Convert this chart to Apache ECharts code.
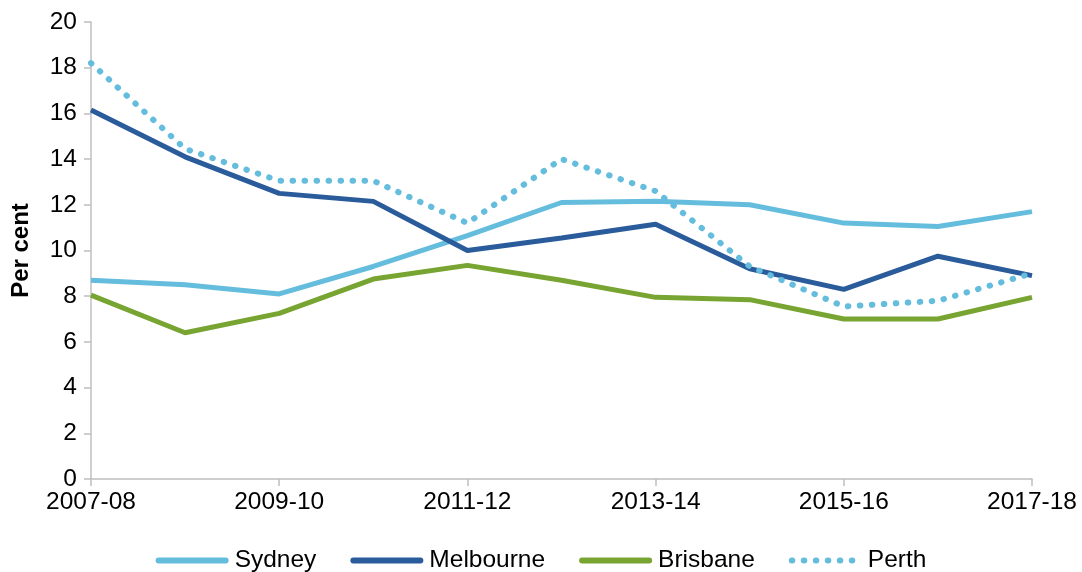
<!DOCTYPE html>
<html>
<head>
<meta charset="utf-8">
<script src="https://cdn.jsdelivr.net/npm/echarts@6/dist/echarts.min.js"></script>
<style>
  html, body { margin: 0; padding: 0; background: #fff; }
  #chart { width: 1082px; height: 572px; }
</style>
</head>
<body>
<div id="chart"></div>
<script>
const years = ['2007-08', '2008-09', '2009-10', '2010-11', '2011-12', '2012-13',
  '2013-14', '2014-15', '2015-16', '2016-17', '2017-18'];
const sydney = [8.7, 8.5, 8.1, 9.3, 10.65, 12.1, 12.15, 12.0, 11.2, 11.05, 11.7];
const melbourne = [16.15, 14.1, 12.5, 12.15, 10.0, 10.55, 11.15, 9.2, 8.3, 9.75, 8.9];
const brisbane = [8.05, 6.4, 7.25, 8.75, 9.35, 8.7, 7.95, 7.85, 7.0, 7.0, 7.95];
const perth = [18.2, 14.45, 13.05, 13.05, 11.2, 14.0, 12.6, 9.3, 7.55, 7.8, 9.0];

const chart = echarts.init(document.getElementById('chart'));
const font = 'Liberation Sans, Arial, sans-serif';

const line = (name, data, color, extra) => ({
  name,
  type: 'line',
  data,
  symbol: 'none',
  lineStyle: Object.assign({ color, width: 5 }, extra),
  itemStyle: { color },
  emphasis: { disabled: true }
});

chart.setOption({
  animation: false,
  backgroundColor: '#fff',
  textStyle: { fontFamily: font },
  grid: { left: 91, right: 50, top: 22, bottom: 93 },
  legend: {
    top: 543,
    left: 'center',
    itemWidth: 67,
    itemHeight: 24,
    itemGap: 34,
    itemStyle: { opacity: 0 },
    lineStyle: { width: 6, cap: 'round' },
    textStyle: { fontSize: 24.5, color: '#000', fontFamily: font, padding: [0, 0, 0, 4] },
    data: ['Sydney', 'Melbourne', 'Brisbane', 'Perth']
  },
  xAxis: {
    type: 'category',
    data: years,
    boundaryGap: false,
    axisLine: { lineStyle: { color: '#BFBFBF', width: 1.5 } },
    axisTick: { show: true, interval: 1, length: 7, lineStyle: { color: '#BFBFBF', width: 1.5 } },
    axisLabel: { interval: 1, color: '#000', fontSize: 24.5, margin: 11, fontFamily: font },
    splitLine: { show: false }
  },
  yAxis: {
    type: 'value',
    min: 0,
    max: 20,
    interval: 2,
    name: 'Per cent',
    nameLocation: 'middle',
    nameGap: 58,
    nameTextStyle: { fontSize: 24, fontWeight: 'bold', color: '#000', fontFamily: font },
    axisLine: { show: true, lineStyle: { color: '#BFBFBF', width: 1.5 } },
    axisTick: { show: true, length: 7, lineStyle: { color: '#BFBFBF', width: 1.5 } },
    axisLabel: { color: '#000', fontSize: 24.5, margin: 14, fontFamily: font },
    splitLine: { show: false }
  },
  series: [
    line('Sydney', sydney, '#65BDDE'),
    line('Melbourne', melbourne, '#2A5B9B'),
    line('Brisbane', brisbane, '#78A431'),
    line('Perth', perth, '#65BDDE', { type: [0.5, 11.5], cap: 'round', width: 6 })
  ]
});
</script>
</body>
</html>
